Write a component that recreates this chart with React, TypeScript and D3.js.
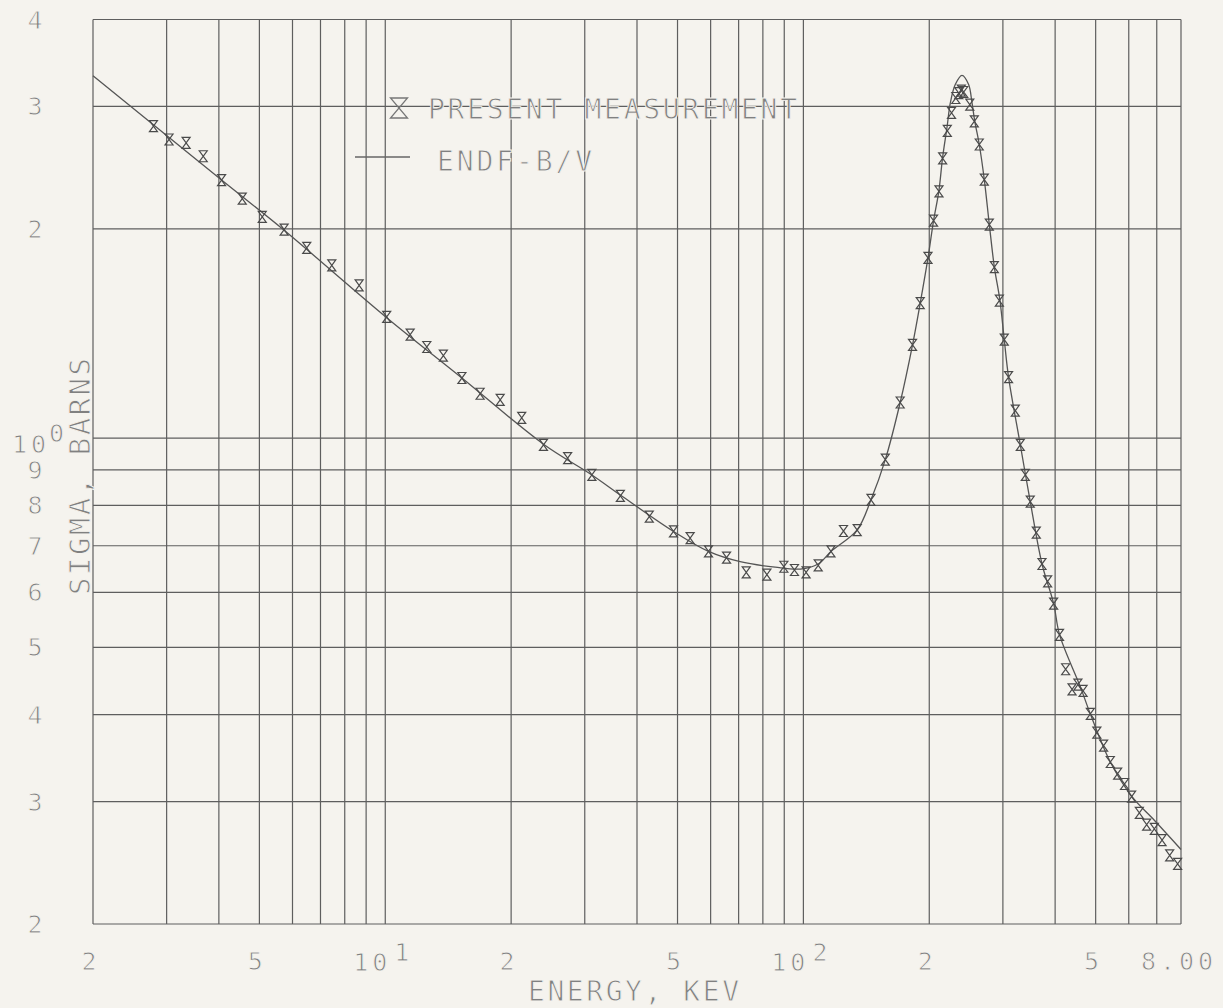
import React, { useEffect, useRef } from "react";
import * as d3 from "d3";

// measured cross section (energy in keV, sigma in barns)
const measEnergy = [
  2.79, 3.04, 3.34, 3.67, 4.06, 4.55, 5.08, 5.73, 6.49, 7.45,
  8.66, 10.08, 11.47, 12.57, 13.77, 15.25, 16.86, 18.83, 21.2, 23.9,
  27.3, 31.2, 36.5, 42.8, 48.9, 53.6, 59.3, 65.5, 73.0, 81.8,
  89.8, 95.2, 101.5, 108.5, 116.4, 124.7, 134.5, 145.1, 157.0, 170.4,
  182.4, 190.3, 198.6, 204.8, 211.0, 215.3, 220.9, 226.1, 231.5, 235.3,
  238.6, 241.8, 250.0, 256.3, 263.4, 270.8, 278.4, 286.2, 294.2, 302.3,
  309.5, 321.2, 330.2, 339.4, 348.8, 360.6, 372.1, 383.8, 396.7, 409.8,
  423.8, 439.1, 453.4, 466.6, 485.6, 503.3, 522.4, 542.0, 564.4, 586.2,
  609.5, 636.0, 662.2, 690.7, 720.8, 751.6, 785.2,
];
const measSigma = [
  2.809, 2.688, 2.659, 2.543, 2.349, 2.21, 2.08, 1.994, 1.877, 1.772,
  1.658, 1.494, 1.409, 1.352, 1.314, 1.22, 1.158, 1.135, 1.069, 0.978,
  0.936, 0.885, 0.826, 0.771, 0.734, 0.718, 0.687, 0.673, 0.641, 0.636,
  0.653, 0.646, 0.641, 0.656, 0.687, 0.735, 0.737, 0.815, 0.931, 1.125,
  1.362, 1.564, 1.816, 2.055, 2.264, 2.526, 2.766, 2.936, 3.084, 3.135,
  3.161, 3.146, 3.018, 2.855, 2.644, 2.354, 2.028, 1.762, 1.576, 1.385,
  1.224, 1.095, 0.978, 0.885, 0.81, 0.731, 0.659, 0.622, 0.578, 0.521,
  0.465, 0.435, 0.442, 0.433, 0.401, 0.377, 0.361, 0.342, 0.329, 0.318,
  0.305, 0.289, 0.278, 0.274, 0.264, 0.251, 0.244,
];

// ENDF-B/V evaluation
const endfEnergy = [
  2.0, 4.06, 5.73, 10.08, 15.25, 23.9, 31.2, 36.5, 48.9, 59.3,
  70.6, 85.6, 98.3, 108.5, 116.4, 134.3, 145.1, 157.0, 170.4, 182.4,
  190.3, 198.6, 204.8, 210.8, 215.3, 220.5, 224.6, 230.8, 239.5, 248.4,
  253.1, 257.0, 263.4, 270.8, 278.4, 286.2, 295.0, 302.3, 309.5, 330.2,
  348.8, 372.1, 396.7, 410.0, 459.4, 485.6, 542.0, 610.8, 690.7, 800,
];
const endfSigma = [
  3.32, 2.35, 1.99, 1.49, 1.22, 0.98, 0.885, 0.828, 0.734, 0.687,
  0.664, 0.652, 0.648, 0.659, 0.687, 0.737, 0.815, 0.931, 1.125, 1.362,
  1.564, 1.816, 2.055, 2.264, 2.536, 2.797, 3.034, 3.225, 3.325, 3.225,
  3.034, 2.855, 2.644, 2.354, 2.028, 1.762, 1.581, 1.385, 1.224, 0.978,
  0.81, 0.659, 0.578, 0.521, 0.439, 0.401, 0.342, 0.305, 0.282, 0.256,
];

// grid + tick labels
const xGrid = [2, 3, 4, 5, 6, 7, 8, 9, 10, 20, 30, 40, 50, 60, 70, 80, 90, 100, 200, 300, 400, 500, 600, 700, 800];
const yGrid = [0.2, 0.3, 0.4, 0.5, 0.6, 0.7, 0.8, 0.9, 1, 2, 3, 4];
const xTickValues = [2, 5, 10, 20, 50, 100, 200, 500, 800];
const xTickBase = ["2", "5", "10", "2", "5", "10", "2", "5", "8.00"];
const xTickExp = ["", "", "1", "", "", "2", "", "", ""];
const yTickValues = [0.2, 0.3, 0.4, 0.5, 0.6, 0.7, 0.8, 0.9, 1, 2, 3, 4];
const yTickBase = ["2", "3", "4", "5", "6", "7", "8", "9", "10", "2", "3", "4"];
const yTickExp = ["", "", "", "", "", "", "", "", "0", "", "", ""];

const W = 1223;
const H = 1008;
const BG = "#f5f3ee";
const FONT = "'DejaVu Sans Mono', monospace";
const TXT = "#808080";
const INK = "#4a4a4a";

// hourglass marker
const hourglass = (w: number, h: number) => `M${-w},${-h}H${w}L${-w},${h}H${w}Z`;

function App() {
  const svgRef = useRef<SVGSVGElement>(null);

  useEffect(() => {
    const svg = d3.select(svgRef.current);
    svg.selectAll("*").remove();

    const x = d3.scaleLog().domain([2, 800]).range([93, 1181]);
    const y = d3.scaleLog().domain([0.2, 4]).range([924, 19.5]);

    svg.append("rect").attr("width", W).attr("height", H).attr("fill", BG);

    // grid lines
    const grid = svg.append("g").attr("stroke", "#5e5e5e").attr("stroke-width", 1.2);
    grid.selectAll("line.v")
      .data(xGrid)
      .join("line")
      .attr("class", "v")
      .attr("x1", (d) => x(d)).attr("x2", (d) => x(d))
      .attr("y1", y(0.2)).attr("y2", y(4));
    grid.selectAll("line.h")
      .data(yGrid)
      .join("line")
      .attr("class", "h")
      .attr("y1", (d) => y(d)).attr("y2", (d) => y(d))
      .attr("x1", x(2)).attr("x2", x(800));

    // all text: thin plotter look (background stroke eats into the glyphs)
    const txt = svg.append("g")
      .attr("font-family", FONT)
      .attr("fill", TXT)
      .attr("stroke", BG)
      .attr("stroke-width", 0.9);

    // x tick labels
    const xt = txt.append("g").attr("font-size", 25).attr("letter-spacing", 4);
    xTickValues.forEach((v, i) => {
      if (xTickExp[i]) {
        xt.append("text").attr("x", x(v) + 6).attr("y", 971).attr("text-anchor", "end").text(xTickBase[i]);
        xt.append("text").attr("x", x(v) + 9).attr("y", 961).attr("text-anchor", "start").text(xTickExp[i]);
      } else {
        xt.append("text").attr("x", x(v) - 2).attr("y", 970).attr("text-anchor", "middle").text(xTickBase[i]);
      }
    });

    // y tick labels
    const yt = txt.append("g").attr("font-size", 25).attr("letter-spacing", 4);
    yTickValues.forEach((v, i) => {
      if (yTickExp[i]) {
        yt.append("text").attr("x", 12).attr("y", y(v) + 15).text(yTickBase[i]);
        yt.append("text").attr("x", 49).attr("y", y(v) + 4).text(yTickExp[i]);
      } else {
        yt.append("text").attr("x", 37).attr("y", y(v) + 9).attr("text-anchor", "middle").text(yTickBase[i]);
      }
    });

    // axis titles
    txt.append("text")
      .attr("x", 528).attr("y", 1001)
      .attr("font-size", 28)
      .attr("textLength", 211).attr("lengthAdjust", "spacing")
      .text("ENERGY, KEV");
    txt.append("text")
      .attr("transform", "translate(90,595) rotate(-90)")
      .attr("font-size", 29)
      .attr("textLength", 237).attr("lengthAdjust", "spacing")
      .text("SIGMA, BARNS");

    // ENDF curve
    const line = d3.line<number>()
      .x((d, i) => x(endfEnergy[i]))
      .y((d) => y(d))
      .curve(d3.curveCatmullRom.alpha(0.5));
    svg.append("path")
      .attr("d", line(endfSigma))
      .attr("fill", "none")
      .attr("stroke", "#555")
      .attr("stroke-width", 1.3);

    // measurement markers
    svg.append("g")
      .selectAll("path")
      .data(measSigma)
      .join("path")
      .attr("transform", (d, i) => `translate(${x(measEnergy[i])},${y(d)})`)
      .attr("d", hourglass(4, 5.5))
      .attr("fill", "none")
      .attr("stroke", INK)
      .attr("stroke-width", 1.2);

    // legend
    const lg = svg.append("g");
    lg.append("path")
      .attr("transform", "translate(399,108)")
      .attr("d", hourglass(8.5, 10))
      .attr("fill", "none")
      .attr("stroke", "#777")
      .attr("stroke-width", 1.3);
    lg.append("line")
      .attr("x1", 355).attr("x2", 410).attr("y1", 157).attr("y2", 157)
      .attr("stroke", "#666").attr("stroke-width", 1.3);
    txt.append("text")
      .attr("x", 428).attr("y", 119)
      .attr("font-size", 28)
      .attr("textLength", 369).attr("lengthAdjust", "spacing")
      .text("PRESENT MEASUREMENT");
    txt.append("text")
      .attr("x", 437).attr("y", 171)
      .attr("font-size", 28)
      .attr("textLength", 155).attr("lengthAdjust", "spacing")
      .text("ENDF-B/V");
  }, []);

  return (
    <svg
      ref={svgRef}
      width={W}
      height={H}
      style={{ position: "absolute", left: 0, top: 0 }}
    ></svg>
  );
}

export default App;
